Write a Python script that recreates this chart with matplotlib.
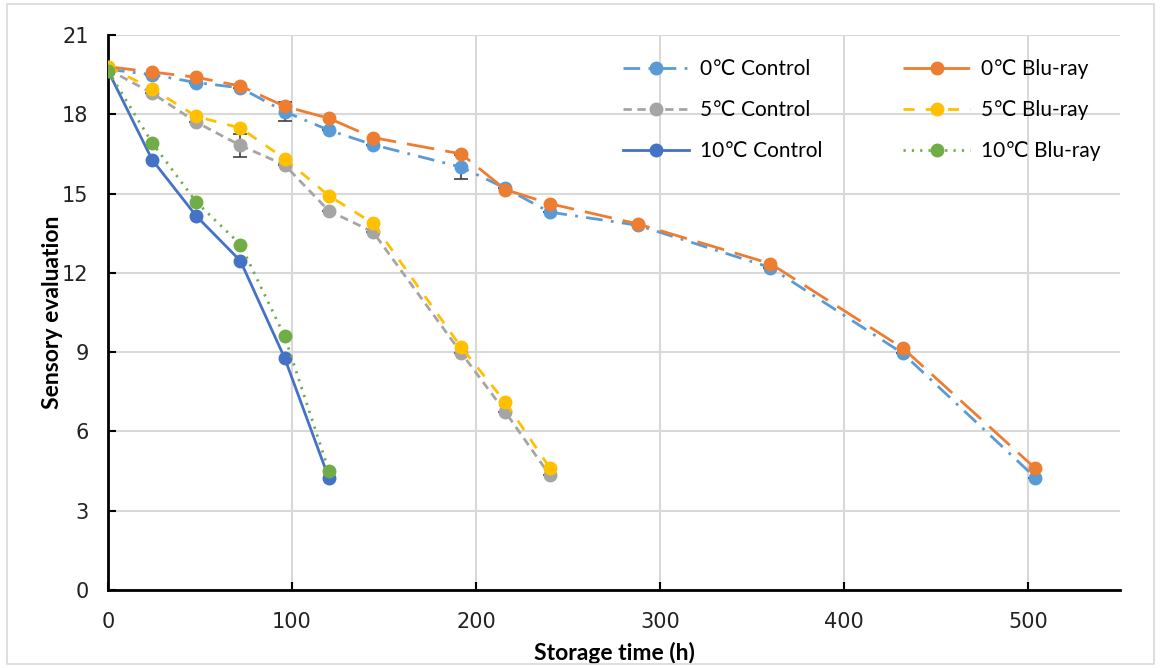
import matplotlib
matplotlib.use("Agg")
import matplotlib.pyplot as plt
from matplotlib.patches import Rectangle

# ---- data ----
t0 = [0, 24, 48, 72, 96, 120, 144, 192, 216, 240, 288, 360, 432, 504]
c0_control = [19.7, 19.5, 19.2, 19.0, 18.1, 17.4, 16.85, 16.0, 15.2, 14.3, 13.8, 12.2, 8.95, 4.25]
c0_bluray  = [19.8, 19.6, 19.4, 19.07, 18.3, 17.85, 17.12, 16.5, 15.15, 14.62, 13.85, 12.35, 9.15, 4.6]
t5 = [0, 24, 48, 72, 96, 120, 144, 192, 216, 240]
c5_control = [19.7, 18.8, 17.7, 16.82, 16.08, 14.35, 13.55, 8.97, 6.73, 4.35]
c5_bluray  = [19.8, 18.97, 17.92, 17.48, 16.32, 14.92, 13.88, 9.18, 7.1, 4.63]
t10 = [0, 24, 48, 72, 96, 120]
c10_control = [19.65, 16.28, 14.15, 12.45, 8.78, 4.24]
c10_bluray  = [19.65, 16.92, 14.68, 13.07, 9.6, 4.52]

# error bars (only a few visible in the original)
err_c0_control = [0, 0, 0, 0, 0.35, 0, 0, 0.45, 0, 0, 0, 0, 0, 0]
err_c5_control = [0, 0, 0, 0.45, 0, 0, 0, 0, 0, 0]

labels = ["0\u2103 Control", "0\u2103 Blu-ray", "5\u2103 Control",
          "5\u2103 Blu-ray", "10\u2103 Control", "10\u2103 Blu-ray"]

fig = plt.figure(figsize=(11.61, 6.68), dpi=100)
fig.patches.append(Rectangle((0.006, 0.006), 0.988, 0.988, transform=fig.transFigure,
                             fill=False, edgecolor="#D9D9D9", linewidth=1.2))
ax = fig.add_axes([0.093, 0.1168, 0.8717, 0.8308])

ms = 9
lw = 2.0
h_c0 = ax.errorbar(t0, c0_control, yerr=err_c0_control, color="#5B9BD5", ecolor="#404040",
                   elinewidth=1.2, capsize=5, capthick=1.2, marker="o", markersize=ms,
                   linewidth=lw, linestyle=(0, (6, 3, 1, 3)), label=labels[0], zorder=3)[0]
h_b0, = ax.plot(t0, c0_bluray, color="#ED7D31", marker="o", markersize=ms, linewidth=lw,
                linestyle=(0, (10, 4)), label=labels[1], zorder=4)
h_c5 = ax.errorbar(t5, c5_control, yerr=err_c5_control, color="#A5A5A5", ecolor="#404040",
                   elinewidth=1.2, capsize=5, capthick=1.2, marker="o", markersize=ms,
                   linewidth=lw, linestyle=(0, (3, 2)), label=labels[2], zorder=3)[0]
h_b5, = ax.plot(t5, c5_bluray, color="#FFC000", marker="o", markersize=ms, linewidth=lw,
                linestyle=(0, (4, 4)), label=labels[3], zorder=4)
h_c10, = ax.plot(t10, c10_control, color="#4472C4", marker="o", markersize=ms, linewidth=lw,
                 linestyle="-", label=labels[4], zorder=3)
h_b10, = ax.plot(t10, c10_bluray, color="#70AD47", marker="o", markersize=ms, linewidth=lw,
                 linestyle=(0, (0.8, 2.2)), label=labels[5], zorder=4)

ax.set_xlim(0, 550)
ax.set_ylim(0, 21)
ax.set_xticks([0, 100, 200, 300, 400, 500])
ax.set_yticks([0, 3, 6, 9, 12, 15, 18, 21])
ax.grid(True, color="#D9D9D9", linewidth=1.5)
ax.set_axisbelow(True)
for s in ["top", "right"]:
    ax.spines[s].set_visible(False)
for s in ["left", "bottom"]:
    ax.spines[s].set_linewidth(2.0)
    ax.spines[s].set_color("black")
ax.tick_params(direction="in", length=6, width=1.5, labelsize=15)
ax.tick_params(axis="x", pad=16)
ax.tick_params(axis="y", pad=14)
tick_font = ["Liberation Sans Narrow", "DejaVu Sans"]
for lab in ax.get_xticklabels() + ax.get_yticklabels():
    lab.set_family(tick_font)
    lab.set_color("#222222")

ax.set_xlabel("Storage time (h)", fontsize=16.5, fontweight="bold", family=["Lato", "DejaVu Sans"], labelpad=7)
ax.set_ylabel("Sensory evaluation", fontsize=16.5, fontweight="bold", family=["Lato", "DejaVu Sans"], labelpad=-1)

leg = ax.legend([h_c0, h_c5, h_c10, h_b0, h_b5, h_b10],
                [labels[0], labels[2], labels[4], labels[1], labels[3], labels[5]],
                ncol=2, frameon=False, loc="upper left", bbox_to_anchor=(0.49, 0.99),
                prop={"family": ["Lato", "DejaVu Sans"], "size": 15},
                handlelength=3.2, columnspacing=3.9, labelspacing=1.0, handletextpad=0.5)

fig.savefig("out.png", dpi=100)
